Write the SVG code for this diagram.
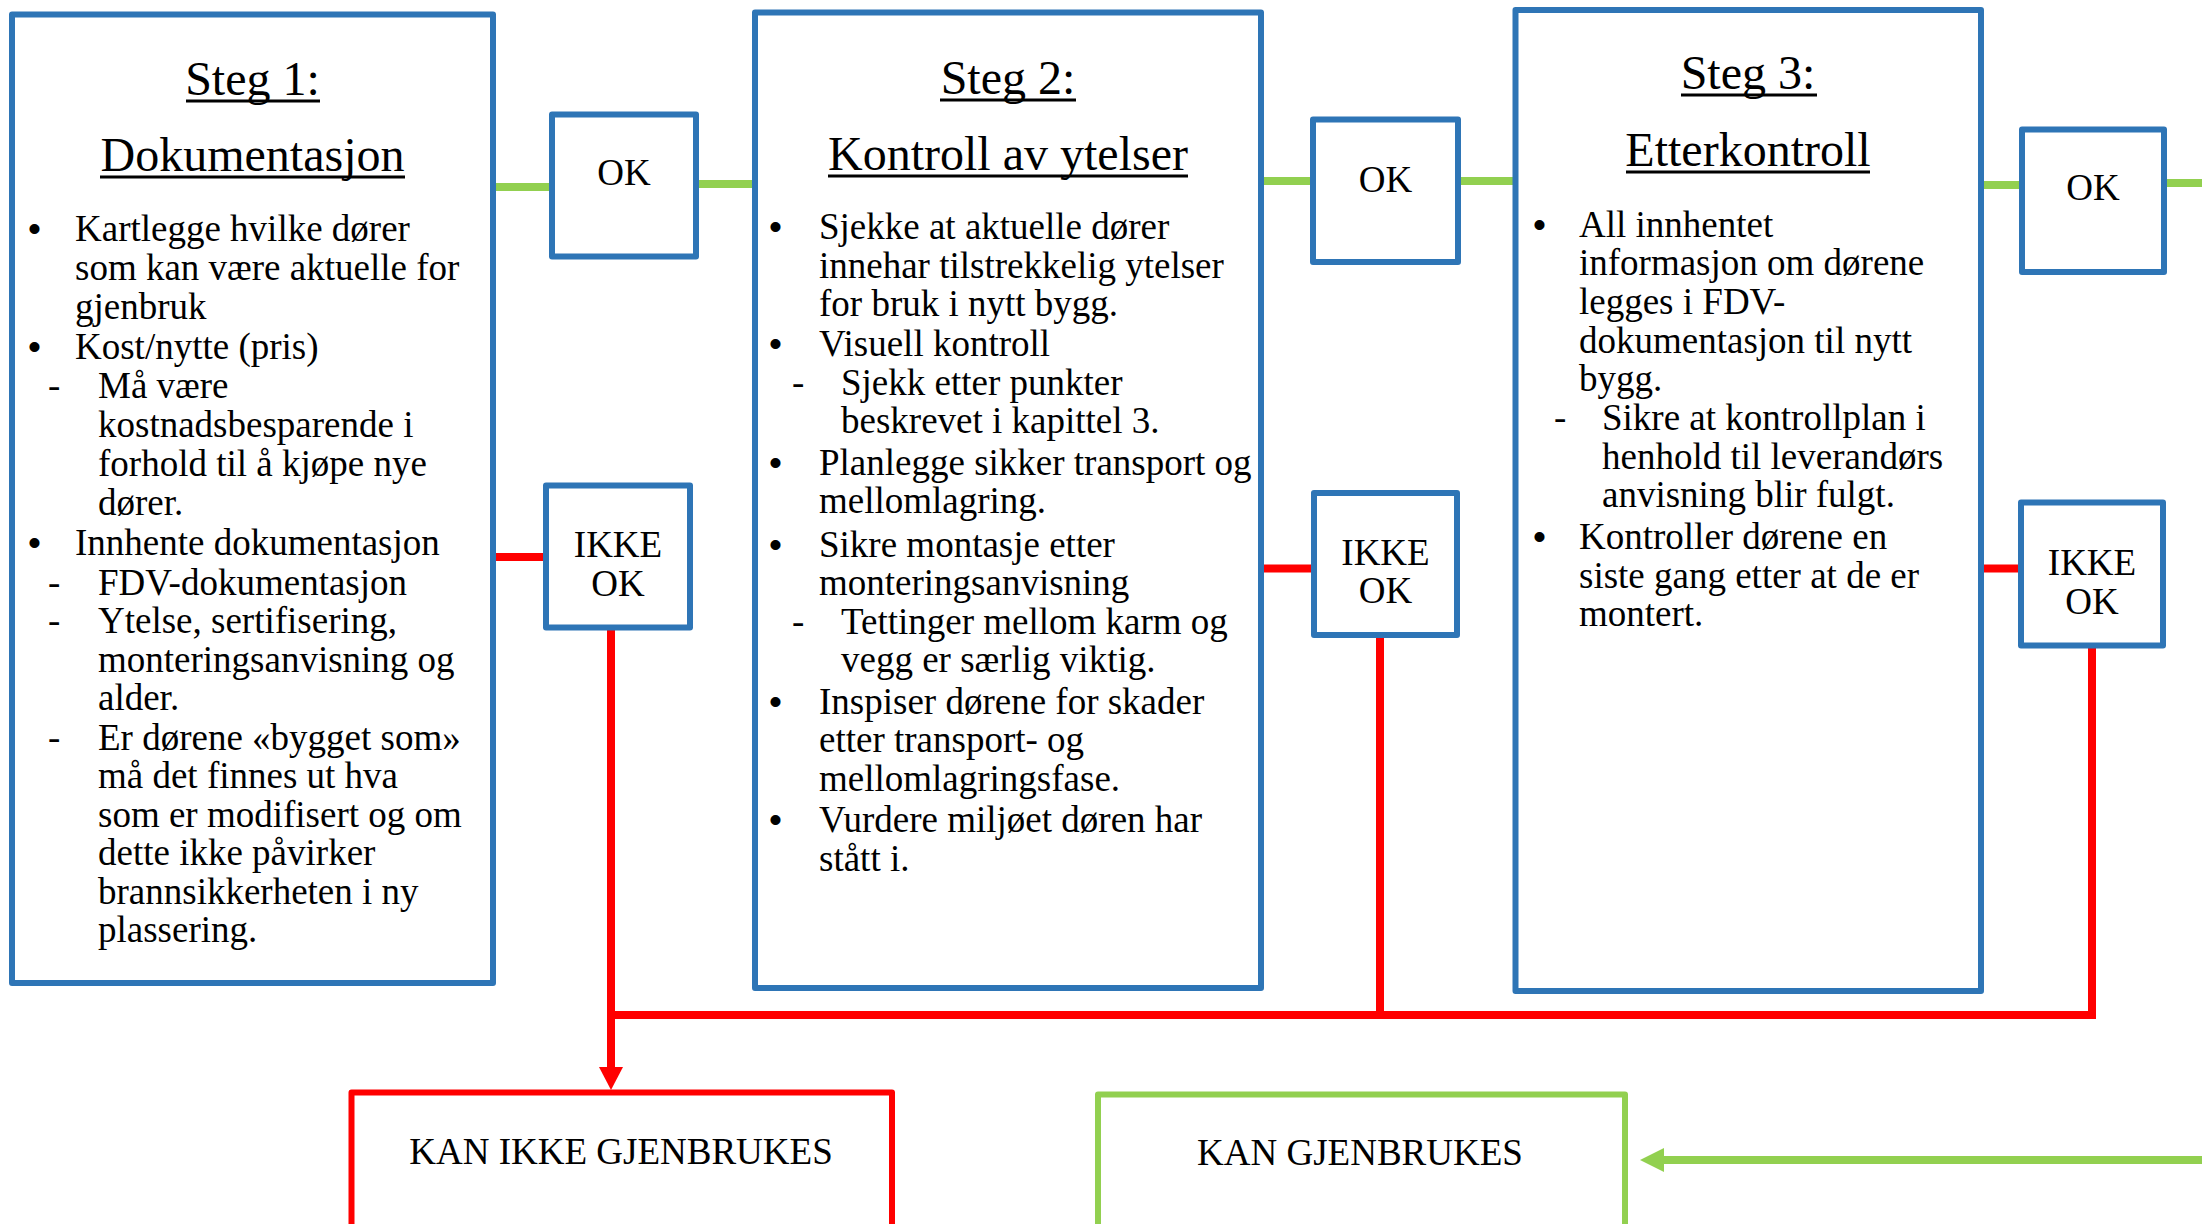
<svg xmlns="http://www.w3.org/2000/svg" width="2202" height="1224" viewBox="0 0 2202 1224">
<defs>
<style>
.box{fill:#fff;stroke:#2E75B6;stroke-width:6;stroke-linejoin:round}
.rbox{fill:#fff;stroke:#FF0000;stroke-width:6;stroke-linejoin:round}
.gbox{fill:#fff;stroke:#92D050;stroke-width:6;stroke-linejoin:round}
.t{font-family:"Liberation Serif","Times New Roman",serif;font-size:37px;fill:#000;transform:translateY(2px)}
.b{font-family:"Liberation Sans",Arial,sans-serif;font-size:37px;fill:#000;transform:translateY(2px)}
.title{font-family:"Liberation Serif","Times New Roman",serif;font-size:48px;fill:#000;text-anchor:middle;transform:translateY(1px)}
.ul{stroke:#000;stroke-width:3;transform:translateY(1px)}
.c{text-anchor:middle}
.g{stroke:#92D050;stroke-width:8;fill:none}
.r{stroke:#FF0000;stroke-width:8;fill:none}
</style>
<marker id="ahr" markerUnits="userSpaceOnUse" markerWidth="24" markerHeight="24" refX="0" refY="12" orient="auto" viewBox="0 0 24 24"><path d="M0,0 L23,12 L0,24 z" fill="#FF0000"/></marker>
<marker id="ahg" markerUnits="userSpaceOnUse" markerWidth="24" markerHeight="24" refX="0" refY="12" orient="auto" viewBox="0 0 24 24"><path d="M0,0 L24,12 L0,24 z" fill="#92D050"/></marker>
</defs>
<rect x="0" y="0" width="2202" height="1224" fill="#fff"/>
<g id="connectors">
<path class="g" d="M493,187 H552"/>
<path class="g" d="M696,184 H755"/>
<path class="g" d="M1261,181 H1313"/>
<path class="g" d="M1458,181 H1515"/>
<path class="g" d="M1981,185 H2022"/>
<path class="g" d="M2164,183 H2202"/>
<path class="r" d="M493,557 H546"/>
<path class="r" d="M1261,568.5 H1314"/>
<path class="r" d="M1981,568.5 H2021"/>
<path class="r" d="M611,628 V1067" marker-end="url(#ahr)"/>
<path class="r" d="M1380,636 V1015"/>
<path class="r" d="M2092,646 V1015 H607"/>
<path class="g" d="M2202,1160 H1664" marker-end="url(#ahg)"/>
</g>
<g id="steg1">
<rect class="box" x="12" y="14.5" width="481" height="968.5"/>
<text class="title" x="252.5" y="94">Steg 1:</text>
<line class="ul" x1="186" y1="100" x2="320" y2="100"/>
<text class="title" x="252.5" y="170">Dokumentasjon</text>
<line class="ul" x1="100" y1="176" x2="405" y2="176"/>
<text class="b" x="28" y="239">•</text>
<text class="b" x="28" y="357">•</text>
<text class="b" x="28" y="553">•</text>
<text class="t" x="48" y="396">-</text>
<text class="t" x="48" y="593">-</text>
<text class="t" x="48" y="631">-</text>
<text class="t" x="48" y="748">-</text>
<text class="t" x="75" y="239">Kartlegge hvilke dører</text>
<text class="t" x="75" y="278">som kan være aktuelle for</text>
<text class="t" x="75" y="317">gjenbruk</text>
<text class="t" x="75" y="357">Kost/nytte (pris)</text>
<text class="t" x="98" y="396">Må være</text>
<text class="t" x="98" y="435">kostnadsbesparende i</text>
<text class="t" x="98" y="474">forhold til å kjøpe nye</text>
<text class="t" x="98" y="513">dører.</text>
<text class="t" x="75" y="553">Innhente dokumentasjon</text>
<text class="t" x="98" y="593">FDV-dokumentasjon</text>
<text class="t" x="98" y="631">Ytelse, sertifisering,</text>
<text class="t" x="98" y="670">monteringsanvisning og</text>
<text class="t" x="98" y="708">alder.</text>
<text class="t" x="98" y="748">Er dørene «bygget som»</text>
<text class="t" x="98" y="786">må det finnes ut hva</text>
<text class="t" x="98" y="825">som er modifisert og om</text>
<text class="t" x="98" y="863">dette ikke påvirker</text>
<text class="t" x="98" y="902">brannsikkerheten i ny</text>
<text class="t" x="98" y="940">plassering.</text>
</g>
<g id="ok1">
<rect class="box" x="552" y="114.5" width="144" height="142"/>
<text class="t c" x="624" y="183">OK</text>
</g>
<g id="ikkeok1">
<rect class="box" x="546" y="485.5" width="144" height="142"/>
<text class="t c" x="618" y="555">IKKE</text>
<text class="t c" x="618" y="594">OK</text>
</g>
<g id="steg2">
<rect class="box" x="755" y="12.5" width="506" height="975.5"/>
<text class="title" x="1008" y="93">Steg 2:</text>
<line class="ul" x1="940" y1="99" x2="1076" y2="99"/>
<text class="title" x="1008" y="169">Kontroll av ytelser</text>
<line class="ul" x1="828" y1="175" x2="1188" y2="175"/>
<text class="b" x="769" y="237">•</text>
<text class="b" x="769" y="354">•</text>
<text class="b" x="769" y="473">•</text>
<text class="b" x="769" y="555">•</text>
<text class="b" x="769" y="712">•</text>
<text class="b" x="769" y="830">•</text>
<text class="t" x="792" y="393">-</text>
<text class="t" x="792" y="632">-</text>
<text class="t" x="819" y="237">Sjekke at aktuelle dører</text>
<text class="t" x="819" y="276">innehar tilstrekkelig ytelser</text>
<text class="t" x="819" y="314">for bruk i nytt bygg.</text>
<text class="t" x="819" y="354">Visuell kontroll</text>
<text class="t" x="841" y="393">Sjekk etter punkter</text>
<text class="t" x="841" y="431">beskrevet i kapittel 3.</text>
<text class="t" x="819" y="473">Planlegge sikker transport og</text>
<text class="t" x="819" y="511">mellomlagring.</text>
<text class="t" x="819" y="555">Sikre montasje etter</text>
<text class="t" x="819" y="593">monteringsanvisning</text>
<text class="t" x="841" y="632">Tettinger mellom karm og</text>
<text class="t" x="841" y="670">vegg er særlig viktig.</text>
<text class="t" x="819" y="712">Inspiser dørene for skader</text>
<text class="t" x="819" y="750">etter transport- og</text>
<text class="t" x="819" y="789">mellomlagringsfase.</text>
<text class="t" x="819" y="830">Vurdere miljøet døren har</text>
<text class="t" x="819" y="869">stått i.</text>
</g>
<g id="ok2">
<rect class="box" x="1313" y="119.5" width="145" height="142.5"/>
<text class="t c" x="1385.5" y="190">OK</text>
</g>
<g id="ikkeok2">
<rect class="box" x="1314" y="493" width="143" height="142"/>
<text class="t c" x="1385.5" y="563">IKKE</text>
<text class="t c" x="1385.5" y="601">OK</text>
</g>
<g id="steg3">
<rect class="box" x="1515.5" y="10" width="465.5" height="981"/>
<text class="title" x="1748" y="88">Steg 3:</text>
<line class="ul" x1="1681" y1="94" x2="1817" y2="94"/>
<text class="title" x="1748" y="165">Etterkontroll</text>
<line class="ul" x1="1626" y1="171" x2="1870" y2="171"/>
<text class="b" x="1533" y="235">•</text>
<text class="b" x="1533" y="547">•</text>
<text class="t" x="1554" y="428">-</text>
<text class="t" x="1579" y="235">All innhentet</text>
<text class="t" x="1579" y="273">informasjon om dørene</text>
<text class="t" x="1579" y="312">legges i FDV-</text>
<text class="t" x="1579" y="351">dokumentasjon til nytt</text>
<text class="t" x="1579" y="389">bygg.</text>
<text class="t" x="1602" y="428">Sikre at kontrollplan i</text>
<text class="t" x="1602" y="467">henhold til leverandørs</text>
<text class="t" x="1602" y="505">anvisning blir fulgt.</text>
<text class="t" x="1579" y="547">Kontroller dørene en</text>
<text class="t" x="1579" y="586">siste gang etter at de er</text>
<text class="t" x="1579" y="624">montert.</text>
</g>
<g id="ok3">
<rect class="box" x="2022" y="129.5" width="142" height="142.5"/>
<text class="t c" x="2093" y="198">OK</text>
</g>
<g id="ikkeok3">
<rect class="box" x="2021" y="502.5" width="142" height="143"/>
<text class="t c" x="2092" y="573">IKKE</text>
<text class="t c" x="2092" y="612">OK</text>
</g>
<g id="kan-ikke-gjenbrukes">
<rect class="rbox" x="351.5" y="1092.5" width="540.5" height="200"/>
<text class="t c" x="621" y="1162">KAN IKKE GJENBRUKES</text>
</g>
<g id="kan-gjenbrukes">
<rect class="gbox" x="1098" y="1094.5" width="527" height="200"/>
<text class="t c" x="1360" y="1163">KAN GJENBRUKES</text>
</g>
</svg>
